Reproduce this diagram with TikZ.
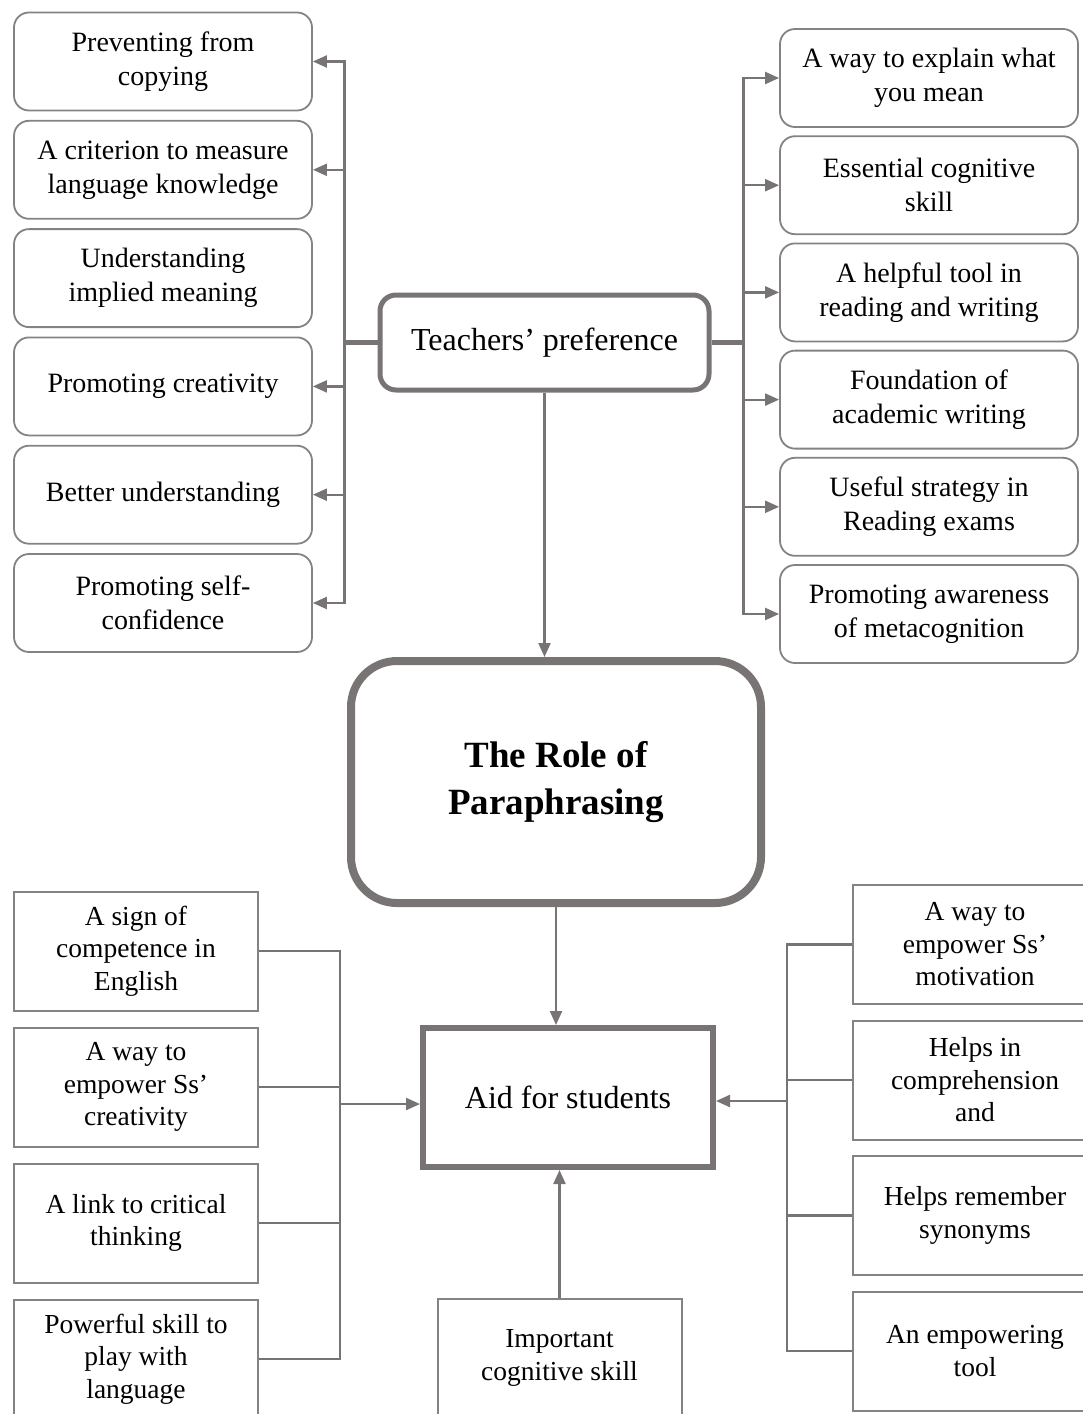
\documentclass[tikz,border=0pt]{standalone}
\usepackage{fontspec}
\setmainfont{Liberation Serif}
\usepackage{tikz}
\usetikzlibrary{positioning,arrows.meta}

\definecolor{linegray}{RGB}{120,116,116}
\definecolor{boxgray}{RGB}{132,130,130}

\tikzset{
  idea/.style={draw=boxgray, line width=1.8pt, rounded corners=15pt, minimum width=298pt,
    minimum height=98pt, inner sep=0pt, align=center, font=\fontsize{28}{34}\selectfont},
  point/.style={draw=boxgray, line width=2pt, minimum width=244pt, minimum height=119pt,
    inner sep=0pt, align=center, font=\fontsize{27.5}{32.5}\selectfont},
  link/.style={draw=linegray, line width=2.2pt},
  stub/.style={draw=linegray, line width=4.5pt}
}

\begin{document}
\begin{tikzpicture}[x=1pt, y=-1pt, >={Triangle[length=14pt,width=12pt]}]
\useasboundingbox (0,0) rectangle (1083,1414);

\node [draw=linegray, line width=5pt, rounded corners=16pt, minimum width=329pt, minimum height=95pt,
  font=\fontsize{32}{38}\selectfont] (teach) at (544.5,342.5) {Teachers’ preference};

\node [draw=linegray, line width=8pt, rounded corners=46pt, minimum width=410pt, minimum height=242pt,
  align=center, font=\bfseries\fontsize{37}{47}\selectfont] (role) at (556,782) {The Role of\\Paraphrasing};

\node [draw=linegray, line width=6pt, minimum width=290pt, minimum height=139pt,
  font=\fontsize{32}{38}\selectfont] (aid) at (568,1097.5) {Aid for students};

\foreach \l [count=\y] in {Preventing from\\copying, A criterion to measure\\language knowledge,
    Understanding\\implied meaning, Promoting creativity, Better understanding, Promoting self-\\confidence}
  \node [idea] (left-\y) at (163,108.3*\y-46.8) {\l};

\foreach \l [count=\y] in {A way to explain what\\you mean, Essential cognitive\\skill,
    A helpful tool in\\reading and writing, Foundation of\\academic writing,
    Useful strategy in\\Reading exams, Promoting awareness\\of metacognition}
  \node [idea] (right-\y) at (929,107.2*\y-29.2) {\l};

\foreach \l [count=\y] in {A sign of\\competence in\\English, A way to\\empower Ss’\\creativity,
    A link to critical\\thinking, Powerful skill to\\play with\\language}
  \node [point] (aidl-\y) at (136,136*\y+815) {\l};

\foreach \l [count=\y] in {A way to\\empower Ss’\\motivation, Helps in\\comprehension\\and,
    Helps remember\\synonyms, An empowering\\tool}
  \node [point] (aidr-\y) at (975,135.5*\y+809) {\l};

\node [point] (skill) at (559.5,1358) {Important\\cognitive skill};

\draw [stub] (teach.west) -- ++(-33,0) coordinate (tl-join);
\draw [stub] (teach.east) -- ++(32,0) coordinate (tr-join);

\foreach \i in {1,2,4,5,6}
  \draw [link,->] (tl-join) |- (left-\i.east);

\foreach \i in {1,...,6}
  \draw [link,->] (tr-join) |- (right-\i.west);

\draw [link,->] (teach.south) -- (teach.south |- role.north);
\draw [link,->] (role.south) -- (role.south |- aid.north);
\draw [link,->] (skill.north) -- (skill.north |- aid.south);

\coordinate (bl-join) at (340,1104);
\coordinate (br-join) at (787,1101);

\foreach \i in {1,...,4}
  \draw [link] (aidl-\i.east) -| (bl-join);

\foreach \i in {1,...,4}
  \draw [link] (aidr-\i.west) -| (br-join);

\draw [link,->] (bl-join) -- (bl-join -| aid.west);
\draw [link,->] (br-join) -- (br-join -| aid.east);

\end{tikzpicture}
\end{document}
